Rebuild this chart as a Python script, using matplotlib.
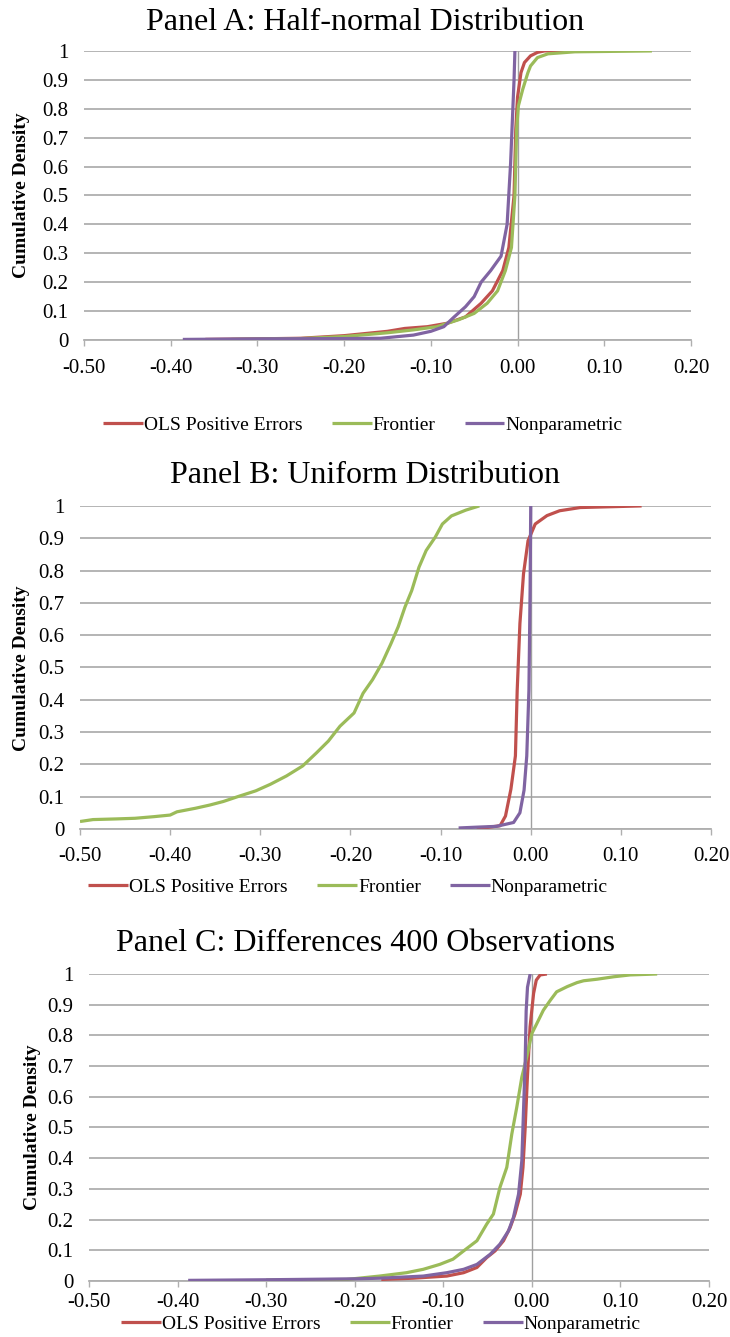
import matplotlib
matplotlib.use("Agg")
import matplotlib.pyplot as plt

plt.rcParams['font.family'] = ['Liberation Serif', 'DejaVu Serif']

# series names / colours
SERIES = ['OLS Positive Errors', 'Frontier', 'Nonparametric']
COLORS = ['#C0504D', '#9BBB59', '#8064A2']

# ---- Panel A: half-normal ----
A_OLS_X = [-0.36, -0.30, -0.25, -0.20, -0.15, -0.13, -0.104, -0.081, -0.06, -0.042, -0.029,
           -0.017, -0.010, -0.004, -0.002, 0.0, 0.004, 0.008, 0.015, 0.023, 0.031, 0.066]
A_OLS_Y = [0.002, 0.004, 0.006, 0.015, 0.030, 0.040, 0.046, 0.058, 0.080, 0.127, 0.170,
           0.240, 0.320, 0.500, 0.730, 0.840, 0.925, 0.960, 0.983, 0.995, 1.0, 1.0]
A_FRO_X = [-0.33, -0.25, -0.20, -0.15, -0.12, -0.093, -0.068, -0.05, -0.035, -0.023, -0.014,
           -0.007, -0.003, -0.001, 0.001, 0.006, 0.012, 0.015, 0.023, 0.035, 0.066, 0.155]
A_FRO_Y = [0.002, 0.005, 0.012, 0.025, 0.035, 0.046, 0.070, 0.092, 0.127, 0.170, 0.240,
           0.320, 0.500, 0.730, 0.810, 0.867, 0.925, 0.948, 0.977, 0.990, 0.997, 1.0]
A_NP_X = [-0.386, -0.30, -0.20, -0.158, -0.12, -0.10, -0.085, -0.073, -0.06, -0.05, -0.042,
          -0.031, -0.019, -0.012, -0.008, -0.004, -0.003]
A_NP_Y = [0.002, 0.004, 0.005, 0.006, 0.017, 0.030, 0.046, 0.080, 0.115, 0.150, 0.200,
          0.240, 0.290, 0.400, 0.610, 0.900, 1.0]

# ---- Panel B: uniform ----
B_OLS_X = [-0.060, -0.034, -0.028, -0.022, -0.017, -0.015, -0.012, -0.008, -0.003, 0.005,
           0.018, 0.032, 0.055, 0.123]
B_OLS_Y = [0.0, 0.010, 0.040, 0.123, 0.226, 0.430, 0.636, 0.790, 0.892, 0.944,
           0.970, 0.985, 0.995, 1.0]
B_FRO_X = [-0.50, -0.4855, -0.46, -0.439, -0.418, -0.40, -0.3925, -0.372, -0.356, -0.341,
           -0.325, -0.305, -0.289, -0.271, -0.253, -0.2375, -0.2245, -0.2116, -0.196, -0.186,
           -0.1755, -0.165, -0.155, -0.147, -0.1395, -0.132, -0.124, -0.116, -0.106, -0.098,
           -0.088, -0.072, -0.057]
B_FRO_Y = [0.023, 0.029, 0.031, 0.033, 0.038, 0.043, 0.053, 0.064, 0.074, 0.085,
           0.100, 0.118, 0.138, 0.164, 0.195, 0.236, 0.272, 0.318, 0.359, 0.420,
           0.462, 0.513, 0.574, 0.626, 0.687, 0.738, 0.810, 0.862, 0.903, 0.944,
           0.969, 0.987, 1.0]
B_NP_X = [-0.080, -0.056, -0.038, -0.019, -0.012, -0.0074, -0.0044, -0.002, -0.0007, 0.0]
B_NP_Y = [0.003, 0.006, 0.008, 0.020, 0.050, 0.120, 0.226, 0.430, 0.740, 1.0]

# ---- Panel C: differences, 400 observations ----
C_OLS_X = [-0.17, -0.134, -0.096, -0.077, -0.062, -0.051, -0.0415, -0.032, -0.0245, -0.019,
           -0.013, -0.010, -0.0075, -0.005, -0.002, 0.002, 0.005, 0.0094, 0.017]
C_OLS_Y = [0.005, 0.009, 0.016, 0.027, 0.044, 0.076, 0.098, 0.131, 0.174, 0.218,
           0.283, 0.370, 0.500, 0.664, 0.828, 0.937, 0.980, 0.997, 1.0]
C_FRO_X = [-0.30, -0.209, -0.172, -0.1415, -0.1226, -0.104, -0.089, -0.077, -0.062, -0.051,
           -0.0434, -0.036, -0.0283, -0.0226, -0.017, -0.0113, -0.0057, 0.0, 0.0057, 0.013,
           0.021, 0.028, 0.040, 0.051, 0.0585, 0.0736, 0.0925, 0.111, 0.1415]
C_FRO_Y = [0.003, 0.005, 0.016, 0.027, 0.038, 0.054, 0.071, 0.098, 0.131, 0.185,
           0.218, 0.305, 0.370, 0.479, 0.566, 0.664, 0.730, 0.806, 0.839, 0.882,
           0.915, 0.942, 0.959, 0.972, 0.978, 0.983, 0.991, 0.997, 1.0]
C_NP_X = [-0.388, -0.30, -0.20, -0.172, -0.1226, -0.096, -0.077, -0.062, -0.047, -0.036,
          -0.0264, -0.0208, -0.015, -0.0113, -0.0094, -0.0075, -0.0064, -0.0049, -0.0019]
C_NP_Y = [0.002, 0.004, 0.007, 0.009, 0.016, 0.027, 0.038, 0.054, 0.087, 0.120,
          0.163, 0.207, 0.283, 0.392, 0.555, 0.717, 0.880, 0.957, 1.0]

X_TICKS = [-0.50, -0.40, -0.30, -0.20, -0.10, 0.00, 0.10, 0.20]
Y_TICKS = [0, 0.1, 0.2, 0.3, 0.4, 0.5, 0.6, 0.7, 0.8, 0.9, 1]
Y_LABELS = ['0', '0.1', '0.2', '0.3', '0.4', '0.5', '0.6', '0.7', '0.8', '0.9', '1']

panels = [
    dict(title='Panel A: Half-normal Distribution', title_y=0.9772,
         rect=[0.115, 0.7457, 0.8315, 0.2162], ylab=(0.030, 0.854), leg=(0.497, 0.682),
         xpad=10, data=[(A_OLS_X, A_OLS_Y), (A_FRO_X, A_FRO_Y), (A_NP_X, A_NP_Y)]),
    dict(title='Panel B: Uniform Distribution', title_y=0.6390,
         rect=[0.1096, 0.380, 0.8644, 0.2416], ylab=(0.029, 0.500), leg=(0.477, 0.3366),
         xpad=9, data=[(B_OLS_X, B_OLS_Y), (B_FRO_X, B_FRO_Y), (B_NP_X, B_NP_Y)]),
    dict(title='Panel C: Differences 400 Observations', title_y=0.2885,
         rect=[0.1219, 0.0419, 0.8493, 0.2296], ylab=(0.045, 0.157), leg=(0.522, 0.0095),
         xpad=5, data=[(C_OLS_X, C_OLS_Y), (C_FRO_X, C_FRO_Y), (C_NP_X, C_NP_Y)]),
]

fig = plt.figure(figsize=(7.30, 13.37), dpi=100)
grid_c = '#AFAFAF'

for p in panels:
    ax = fig.add_axes(p['rect'])
    handles = []
    for (xs, ys), name, col in zip(p['data'], SERIES, COLORS):
        h, = ax.plot(xs, ys, color=col, lw=2.3, label=name, solid_capstyle='butt', zorder=3)
        handles.append(h)
    ax.set_xlim(-0.5, 0.2)
    ax.set_ylim(0, 1)
    ax.set_xticks(X_TICKS)
    ax.set_xticklabels(['%.2f' % v for v in X_TICKS])
    ax.set_yticks(Y_TICKS)
    ax.set_yticklabels(Y_LABELS)
    ax.grid(axis='y', color=grid_c, lw=1.3)
    ax.set_axisbelow(True)
    ax.axvline(0, color='#A0A0A0', lw=1.0, zorder=2)
    for s in ['left', 'right', 'top']:
        ax.spines[s].set_visible(False)
    ax.spines['bottom'].set_color(grid_c)
    ax.spines['bottom'].set_linewidth(1.3)
    ax.tick_params(axis='x', direction='out', length=4, width=1.0, color=grid_c,
                   labelsize=15, pad=p['xpad'])
    ax.tick_params(axis='y', length=0, labelsize=15, pad=11)

    fig.text(0.5, p['title_y'], p['title'], ha='center', va='baseline', fontsize=23)
    fig.text(p['ylab'][0], p['ylab'][1], 'Cumulative Density', rotation=90,
             ha='center', va='center', fontsize=14, fontweight='bold')
    fig.legend(handles=handles, loc='center', bbox_to_anchor=p['leg'], ncol=3,
               frameon=False, fontsize=14, handlelength=2.05, handletextpad=0.05,
               columnspacing=1.5, borderaxespad=0)

fig.savefig('out.png', dpi=100)
